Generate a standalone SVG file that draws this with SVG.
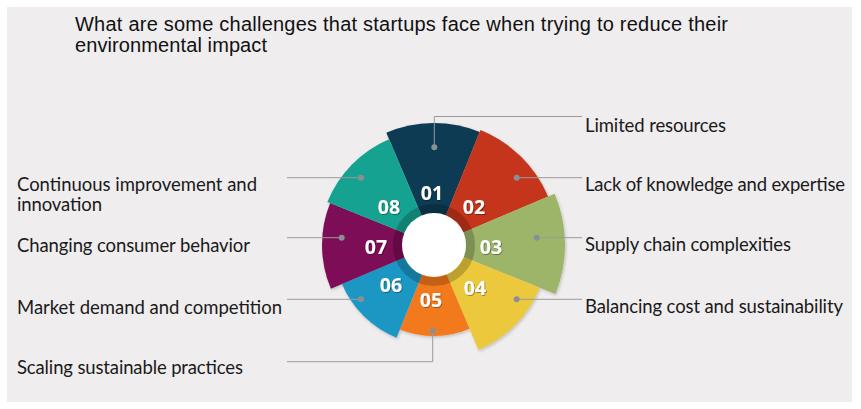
<svg xmlns="http://www.w3.org/2000/svg" width="861" height="409" viewBox="0 0 861 409">
<defs>
<style>
.title{font-family:"Liberation Sans",Arial,sans-serif;font-size:20px;fill:#111;}
.lbl{font-family:Lato,"Open Sans",sans-serif;font-size:18.5px;fill:#1a1a1a;}
.num{font-family:"Open Sans",Lato,sans-serif;font-weight:700;font-size:19.5px;fill:#fff;text-anchor:middle;}
.conn{fill:none;stroke:#9b9b9b;stroke-width:1;}
.dot{fill:#8a8f94;}
</style>
<filter id="sh" x="-20%" y="-20%" width="140%" height="140%">
<feDropShadow dx="1" dy="1.5" stdDeviation="1.5" flood-color="#000" flood-opacity="0.2"/>
</filter>
<filter id="tsh" x="-20%" y="-20%" width="140%" height="140%">
<feDropShadow dx="0.8" dy="0.8" stdDeviation="0.6" flood-color="#000" flood-opacity="0.45"/>
</filter>
</defs>
<rect x="0" y="0" width="861" height="409" fill="#ffffff"/>
<rect x="7" y="7" width="845" height="395" fill="#efedee"/>
<g id="title">
<text class="title" x="75" y="31" textLength="653">What are some challenges that startups face when trying to reduce their</text>
<text class="title" x="75" y="52" textLength="192">environmental impact</text>
</g>
<g id="wheel" filter="url(#sh)">
<path id="seg01" d="M434,245 L386.33,132.70 A122,122 0 0 1 479.70,131.88 Z" fill="#0e3a53"/>
<path id="seg02" d="M434,245 L480.45,130.03 A124,124 0 0 1 548.14,196.55 Z" fill="#c4341d"/>
<path id="seg03" d="M434,245 L554.59,193.82 A131,131 0 0 1 555.46,294.07 Z" fill="#9db569"/>
<path id="seg04" d="M434,245 L539.70,287.70 A114,114 0 0 1 478.54,349.94 Z" fill="#ecc83c"/>
<path id="seg05" d="M434,245 L469.55,328.77 A91,91 0 0 1 399.91,329.38 Z" fill="#f37a1f"/>
<path id="seg06" d="M434,245 L396.54,337.72 A100,100 0 0 1 341.95,284.07 Z" fill="#1c97c4"/>
<path id="seg07" d="M434,245 L330.90,288.76 A112,112 0 0 1 330.15,203.04 Z" fill="#7b0e56"/>
<path id="seg08" d="M434,245 L327.37,201.92 A115,115 0 0 1 389.07,139.14 Z" fill="#18a290"/>
</g>
<g id="hub">
<circle cx="434" cy="245" r="36.5" fill="none" stroke="#000" stroke-opacity="0.2" stroke-width="9"/>
<circle cx="434" cy="245" r="32" fill="#ffffff"/>
</g>
<g id="numbers" filter="url(#tsh)">
<text class="num" x="432" y="200">01</text>
<text class="num" x="474" y="214">02</text>
<text class="num" x="491" y="254">03</text>
<text class="num" x="475" y="295">04</text>
<text class="num" x="431" y="307">05</text>
<text class="num" x="391" y="292">06</text>
<text class="num" x="376" y="254">07</text>
<text class="num" x="389" y="214">08</text>
</g>
<g id="connectors">
<path class="conn" d="M434.3,147.3 V116.5 H582"/>
<path class="conn" d="M516.7,177.7 H582"/>
<path class="conn" d="M536.7,237.7 H582"/>
<path class="conn" d="M516.7,299.3 H582"/>
<path class="conn" d="M432.7,330.7 V361.7 H287"/>
<path class="conn" d="M361,299.3 H287"/>
<path class="conn" d="M341.7,237.7 H287"/>
<path class="conn" d="M361,177.7 H287"/>
<circle class="dot" cx="434.3" cy="147.3" r="3"/>
<circle class="dot" cx="516.7" cy="177.7" r="3"/>
<circle class="dot" cx="536.7" cy="237.7" r="3"/>
<circle class="dot" cx="516.7" cy="299.3" r="3"/>
<circle class="dot" cx="432.7" cy="330.7" r="3"/>
<circle class="dot" cx="361" cy="299.3" r="3"/>
<circle class="dot" cx="341.7" cy="237.7" r="3"/>
<circle class="dot" cx="361" cy="177.7" r="3"/>
</g>
<g id="label01"><text class="lbl" x="585" y="131.5" textLength="141">Limited resources</text></g>
<g id="label02"><text class="lbl" x="585" y="190.7" textLength="260">Lack of knowledge and expertise</text></g>
<g id="label03"><text class="lbl" x="585" y="251" textLength="206">Supply chain complexities</text></g>
<g id="label04"><text class="lbl" x="585" y="313.3" textLength="258">Balancing cost and sustainability</text></g>
<g id="label05"><text class="lbl" x="17" y="374" textLength="226">Scaling sustainable practices</text></g>
<g id="label06"><text class="lbl" x="17" y="314" textLength="265">Market demand and competition</text></g>
<g id="label07"><text class="lbl" x="17" y="251.7" textLength="233">Changing consumer behavior</text></g>
<g id="label08"><text class="lbl" x="17" y="190.7" textLength="240">Continuous improvement and</text><text class="lbl" x="17" y="210.7" textLength="85">innovation</text></g>
</svg>
